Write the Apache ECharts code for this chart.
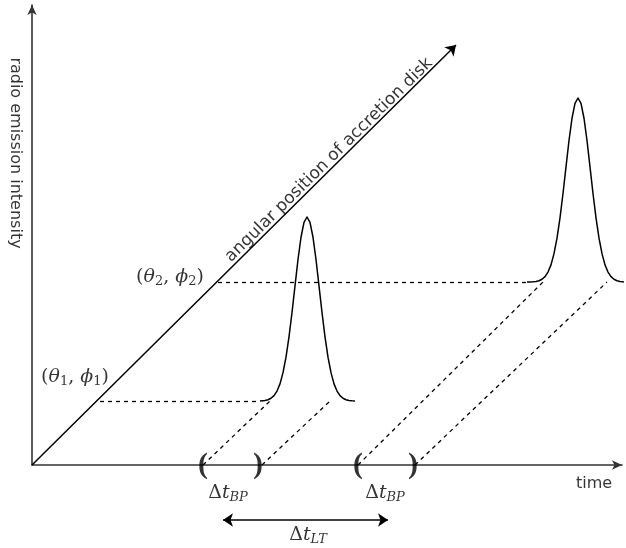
<!DOCTYPE html>
<html>
<head>
<meta charset="utf-8">
<script src="https://cdn.jsdelivr.net/npm/echarts@6/dist/echarts.min.js"></script>
<style>html,body{margin:0;padding:0;background:#fff}#c{width:626px;height:548px}</style>
</head>
<body>
<div id="c"></div>
<script>
// ---- data (schematic units: x = time, y = intensity / angular position) ----
const pulseOffsets = [-48, -45, -42, -39, -36, -33, -30, -27, -24, -21, -18, -15, -12, -9, -6, -3, 0,
                      3, 6, 9, 12, 15, 18, 21, 24, 27, 30, 33, 36, 39, 42, 45, 48];
const pulseShape   = [0, 0.001, 0.003, 0.007, 0.015, 0.029, 0.054, 0.093, 0.154, 0.238, 0.349, 0.481, 0.626, 0.769, 0.89, 0.971, 1,
                      0.971, 0.89, 0.769, 0.626, 0.481, 0.349, 0.238, 0.154, 0.093, 0.054, 0.029, 0.015, 0.007, 0.003, 0.001, 0];
const pulseCenters = [275, 546];
const pulseBases   = [64, 183];
const pulseHeight  = 184;
const pulseTails   = [[228, 323], [495, 594]];
const diskAxisEnd  = [424, 420];
const levelLines   = [[[68, 64], [228, 64]], [[186, 183], [495, 183]]];
const delayLines   = [[[171, 0], [238, 64]], [[230, 0], [298, 64]], [[326, 0], [511, 183]], [[383, 0], [575, 183]]];
const brackets     = [[171, '('], [226, ')'], [326, '('], [381, ')']];
const bpLabels     = [[196, -28], [353, -28]];
const ltArrow      = [[191, -55], [356, -55]];
const ltLabel      = [276, -70];
const pointLabels  = [[43, 88, '1'], [138, 188, '2']];
const diskLabelPos = [297, 305];
const timeLabelPos = [562, -19];
const yLabelPos    = [-17, 312];

const chart = echarts.init(document.getElementById('c'), null, {renderer: 'canvas'});

function pulse(i) {
  const pts = pulseOffsets.map((d, k) => [pulseCenters[i] + d, pulseBases[i] + pulseHeight * pulseShape[k]]);
  return [[pulseTails[i][0], pulseBases[i]]].concat(pts, [[pulseTails[i][1], pulseBases[i]]]);
}
const serif = 'DejaVu Serif';
const subRich = {
  n: {fontFamily: serif, fontSize: 19, color: '#000', lineHeight: 26},
  i: {fontFamily: serif, fontSize: 19, fontStyle: 'italic', color: '#000', lineHeight: 26},
  s: {fontFamily: serif, fontSize: 13, color: '#000', lineHeight: 26, padding: [10, 0, 0, 0]},
  si: {fontFamily: serif, fontSize: 13, fontStyle: 'italic', color: '#000', lineHeight: 26, padding: [10, 0, 0, 0]}
};
const lineStyleDash = {color: '#000', width: 1.3, type: [4, 4], opacity: 1};

const option = {
  animation: false,
  grid: {left: 32, right: 4, top: 5, bottom: 83},
  xAxis: {
    type: 'value', min: 0, max: 590,
    axisLine: {show: true, symbol: ['none', 'arrow'], symbolSize: [7, 10], lineStyle: {color: '#333', width: 1.6}},
    axisTick: {show: false}, axisLabel: {show: false}, splitLine: {show: false}
  },
  yAxis: {
    type: 'value', min: 0, max: 460,
    axisLine: {show: true, symbol: ['none', 'arrow'], symbolSize: [7, 10], lineStyle: {color: '#333', width: 1.6}},
    axisTick: {show: false}, axisLabel: {show: false}, splitLine: {show: false}
  },
  series: [
    {type: 'line', data: pulse(0), smooth: false, symbol: 'none', clip: false,
     lineStyle: {color: '#000', width: 1.5, join: 'round'}},
    {type: 'line', data: pulse(1), smooth: false, symbol: 'none', clip: false,
     lineStyle: {color: '#000', width: 1.5, join: 'round'}},
    {type: 'lines', coordinateSystem: 'cartesian2d', clip: false,
     symbol: ['none', 'arrow'], symbolSize: 10,
     lineStyle: {color: '#000', width: 1.5, opacity: 1},
     data: [{coords: [[0, 0], diskAxisEnd]}]},
    {type: 'lines', coordinateSystem: 'cartesian2d', clip: false,
     lineStyle: lineStyleDash,
     data: levelLines.concat(delayLines).map(c => ({coords: c}))},
    {type: 'lines', coordinateSystem: 'cartesian2d', clip: false,
     symbol: ['arrow', 'arrow'], symbolSize: 10,
     lineStyle: {color: '#000', width: 1.5, opacity: 1},
     data: [{coords: ltArrow}]},
    {type: 'scatter', symbolSize: 0, clip: false, silent: true,
     data: brackets.map(b => ({value: [b[0], 0], name: b[1]})),
     label: {show: true, position: 'inside', formatter: p => p.name,
             fontFamily: 'Liberation Serif', fontWeight: 'bold', fontSize: 30, color: '#000'}},
    {type: 'scatter', symbolSize: 0, clip: false, silent: true,
     data: bpLabels.map(p => ({value: p})),
     label: {show: true, position: 'inside', formatter: '{n|Δ}{i|t}{si|BP}', rich: subRich}},
    {type: 'scatter', symbolSize: 0, clip: false, silent: true,
     data: [{value: ltLabel}],
     label: {show: true, position: 'inside', formatter: '{n|Δ}{i|t}{si|LT}', rich: subRich}},
    {type: 'scatter', symbolSize: 0, clip: false, silent: true,
     data: pointLabels.map(p => ({value: [p[0], p[1]], name: p[2]})),
     label: {show: true, position: 'inside',
             formatter: p => '{n|(}{i|θ}{s|' + p.name + '}{n|, }{i|ϕ}{s|' + p.name + '}{n|)}',
             rich: subRich}},
    {type: 'scatter', symbolSize: 0, clip: false, silent: true,
     data: [{value: diskLabelPos, name: 'angular position of accretion disk'}],
     label: {show: true, position: 'inside', formatter: p => p.name, rotate: 44.5,
             fontFamily: 'DejaVu Sans', fontSize: 17, color: '#000'}},
    {type: 'scatter', symbolSize: 0, clip: false, silent: true,
     data: [{value: timeLabelPos, name: 'time'}],
     label: {show: true, position: 'inside', formatter: p => p.name,
             fontFamily: 'DejaVu Sans', fontSize: 16, color: '#000'}},
    {type: 'scatter', symbolSize: 0, clip: false, silent: true,
     data: [{value: yLabelPos, name: 'radio emission intensity'}],
     label: {show: true, position: 'inside', formatter: p => p.name, rotate: -90,
             fontFamily: 'DejaVu Sans', fontSize: 16, color: '#000'}}
  ]
};
chart.setOption(option);
</script>
</body>
</html>
